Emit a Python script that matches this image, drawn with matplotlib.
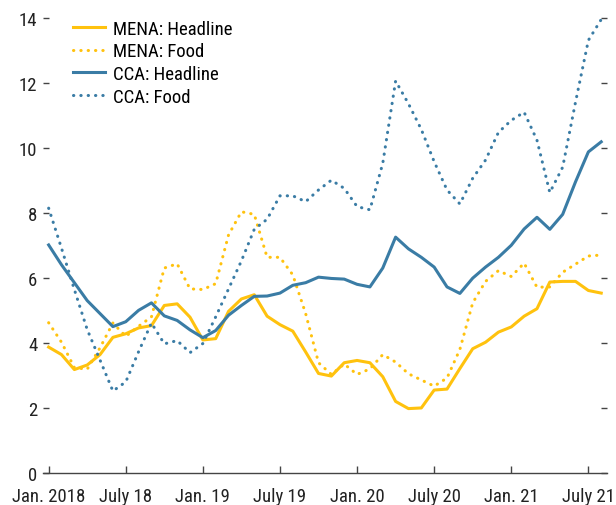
import numpy as np
import matplotlib
matplotlib.use("Agg")
import matplotlib.pyplot as plt

plt.rcParams['font.family'] = ['Liberation Sans Narrow', 'Nimbus Sans Narrow', 'Roboto Condensed',
                               'Archivo Narrow', 'Liberation Sans', 'DejaVu Sans']

# Monthly data, Jan. 2018 to Aug. 2021 (percent, year over year)
months = np.arange(44)

mena_headline = [3.87, 3.64, 3.18, 3.32, 3.64, 4.17, 4.28, 4.46, 4.53, 5.15, 5.20, 4.79,
                 4.09, 4.13, 4.97, 5.35, 5.48, 4.82, 4.56, 4.36, 3.72, 3.06, 2.98, 3.39,
                 3.46, 3.39, 2.96, 2.20, 1.98, 2.00, 2.55, 2.58, 3.21, 3.82, 4.02, 4.33,
                 4.49, 4.82, 5.05, 5.87, 5.89, 5.89, 5.61, 5.53]
mena_food = [4.62, 4.02, 3.24, 3.19, 3.85, 4.61, 4.20, 4.51, 4.80, 6.30, 6.43, 5.66,
             5.64, 5.82, 7.32, 8.03, 7.95, 6.63, 6.63, 6.09, 4.90, 3.39, 3.03, 3.35,
             3.03, 3.20, 3.64, 3.41, 3.05, 2.86, 2.67, 2.92, 3.80, 5.23, 5.89, 6.22,
             6.04, 6.45, 5.71, 5.72, 6.17, 6.42, 6.67, 6.70]
cca_headline = [7.01, 6.40, 5.85, 5.30, 4.90, 4.50, 4.65, 5.00, 5.23, 4.83, 4.69, 4.40,
                4.16, 4.38, 4.85, 5.15, 5.43, 5.44, 5.53, 5.77, 5.85, 6.02, 5.98, 5.96,
                5.80, 5.72, 6.30, 7.25, 6.89, 6.63, 6.33, 5.72, 5.52, 5.99, 6.33, 6.63,
                7.00, 7.50, 7.86, 7.49, 7.95, 8.95, 9.87, 10.18]
cca_food = [8.14, 6.91, 5.64, 4.41, 3.47, 2.52, 2.80, 3.73, 4.61, 3.97, 4.07, 3.70,
            3.98, 4.80, 5.66, 6.52, 7.49, 7.80, 8.52, 8.52, 8.34, 8.70, 9.00, 8.75,
            8.19, 8.09, 9.52, 12.05, 11.35, 10.56, 9.57, 8.70, 8.27, 9.06, 9.62, 10.47,
            10.84, 11.09, 10.23, 8.62, 9.40, 11.40, 13.30, 13.94]

tick_pos = [0, 6, 12, 18, 24, 30, 36, 42]
tick_labels = ['Jan. 2018', 'July 18', 'Jan. 19', 'July 19', 'Jan. 20', 'July 20', 'Jan. 21', 'July 21']

yellow = '#FFC20E'
blue = '#3A7CA5'
dots = (0, (0.1, 2.3))

fig = plt.figure(figsize=(6.16, 5.06), dpi=100)
ax = fig.add_axes([0.0698, 0.0632, 0.9156, 0.9002])

ax.plot(months, mena_headline, color=yellow, lw=2.2, label='MENA: Headline')
ax.plot(months, mena_food, color=yellow, lw=2.2, ls=dots, dash_capstyle='round', label='MENA: Food')
ax.plot(months, cca_headline, color=blue, lw=2.2, label='CCA: Headline')
ax.plot(months, cca_food, color=blue, lw=2.2, ls=dots, dash_capstyle='round', label='CCA: Food')

ax.set_xlim(-0.44, 43.45)
ax.set_ylim(0, 14)
ax.set_yticks(range(0, 15, 2))
ax.set_xticks(tick_pos)
ax.set_xticklabels(tick_labels)

for side in ['top', 'left', 'right']:
    ax.spines[side].set_visible(False)
ax.spines['bottom'].set_color('#444444')
ax.spines['bottom'].set_linewidth(1.0)

ax.tick_params(axis='x', direction='in', length=5, width=1, color='#444444',
               labelsize=13.5, labelcolor='#222222', pad=10)
ax.tick_params(axis='y', direction='in', length=4, width=1, color='#444444',
               labelsize=13.5, labelcolor='#222222', right=True, pad=4)

ax.legend(loc='upper left', bbox_to_anchor=(0.04, 1.012), frameon=False, fontsize=13.5,
          handlelength=1.72, handletextpad=0.4, labelspacing=0.25, borderaxespad=0.0)

fig.savefig('out.png', dpi=100)
